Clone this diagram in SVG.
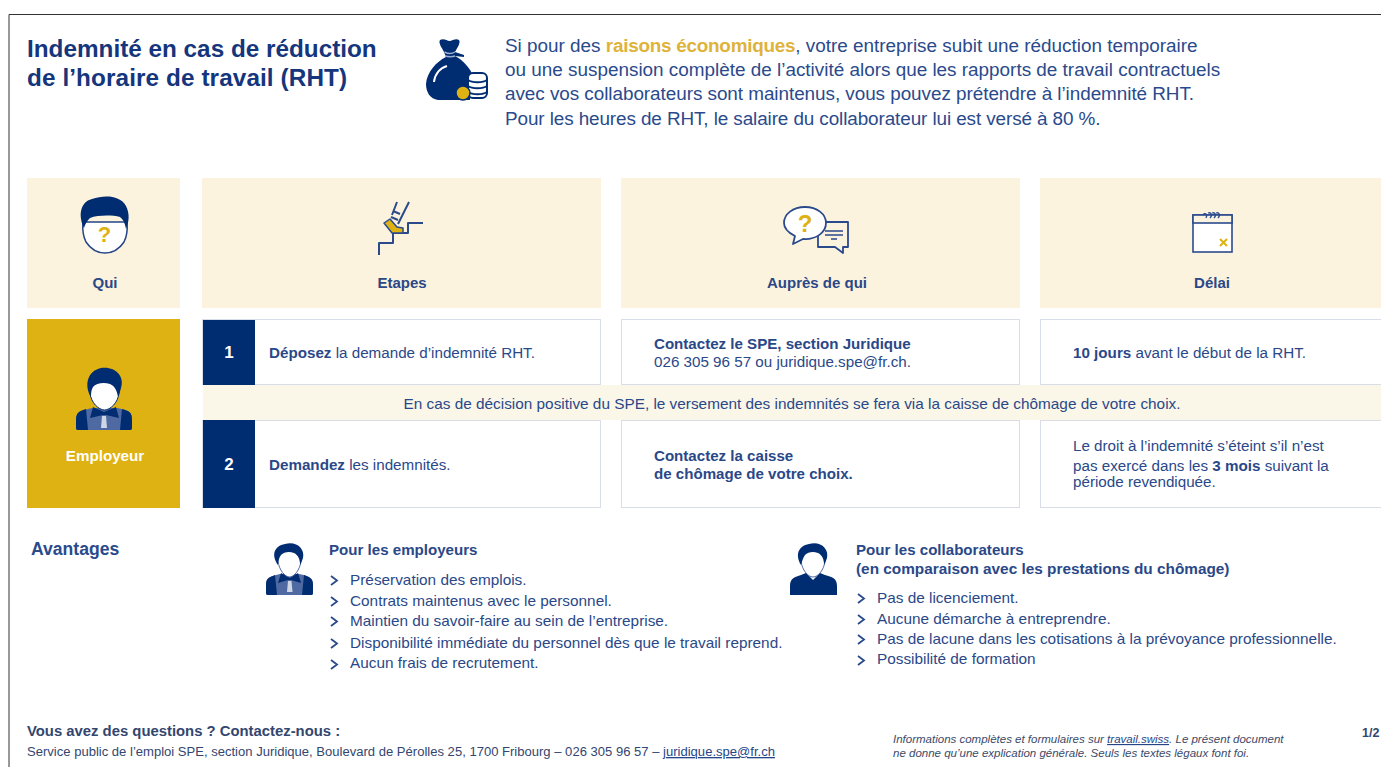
<svg xmlns="http://www.w3.org/2000/svg" width="1381" height="767" viewBox="0 0 1381 767">
<style>
text{font-family:"Liberation Sans",Arial,sans-serif;fill:#2a4888}
.b{font-weight:700}
.t{font-size:24.3px;font-weight:700;fill:#15367c}
.i{font-size:18.9px;fill:#2a4a8c}
.h{font-size:15px;font-weight:700;text-anchor:middle}
.c{font-size:15.2px}
.c.b{font-size:15.1px}
.l{font-size:15.35px}
.n{font-size:17px;font-weight:700;fill:#fff;text-anchor:middle}
.cream{fill:#fbf3de}
.card{fill:#fff;stroke:#d9dde8;stroke-width:1}
.navy{fill:#002d72}
.ln{fill:none;stroke:#2b4a8c;stroke-width:2;stroke-linejoin:round}
.gold{fill:#deb212}
.chev{fill:none;stroke:#2b4a8c;stroke-width:1.8}
.f{font-size:13.05px;fill:#33466f}
.fi{font-size:11.5px;font-style:italic;fill:#3c4a68}
</style>
<defs>
<path id="chev" class="chev" d="M0 0l6 4.500l-6 4.500"/>
</defs>
<rect width="1381" height="767" fill="#fff"/>
<path d="M9 767V14.500H1381" fill="none" stroke="#333" stroke-width="1"/>

<g id="title"><text class="t" x="27" y="57">Indemnité en cas de réduction</text><text class="t" x="27" y="86" letter-spacing=".1">de l’horaire de travail (RHT)</text></g>
<g id="intro-icon">
<path class="navy" d="M440 40C444 38 447 41 449.500 41C452 41 456 38 459 40C461 43 457 48 455 52L464 55V57L455 56C463 60 471 69 473 76L470 85V100H438C430 99 426 92 426 84C427 72 436 62 446 57L444 52C442 48 438 43 440 40Z"/>
<path d="M444.500 52C448 54 452 54 455 52M445 56C449 57 452 57 455 56" fill="none" stroke="#9db0d0" stroke-width="1.500"/>
<path d="M434 82C435 74 440 68 447 66" fill="none" stroke="#fff" stroke-width="2"/>
<rect x="468" y="73" width="19" height="25" rx="5" fill="#fff" stroke="#002d72" stroke-width="2"/>
<path d="M468 80C472 83 483 83 487 80M468 86C472 89 483 89 487 86M468 92C472 95 483 95 487 92" fill="none" stroke="#002d72" stroke-width="2"/>
<circle cx="463" cy="93" r="7" class="gold" stroke="#002d72" stroke-width="1.500"/>
</g>
<g id="intro">
<text class="i" x="505" y="52">Si pour des <tspan class="b" style="fill:#deb33a" letter-spacing="-.25">raisons économiques</tspan>, votre entreprise subit une réduction temporaire</text>
<text class="i" x="505" y="76">ou une suspension complète de l’activité alors que les rapports de travail contractuels</text>
<text class="i" x="505" y="100" letter-spacing="-.05">avec vos collaborateurs sont maintenus, vous pouvez prétendre à l’indemnité RHT.</text>
<text class="i" x="505" y="125" letter-spacing="-.1">Pour les heures de RHT, le salaire du collaborateur lui est versé à 80 %.</text>
</g>

<g id="head-qui"><rect class="cream" x="27" y="178" width="153" height="130"/>
<path d="M83 222C82 232 84 238 86 242C90 248 96 253 105 253C114 253 120 248 124 242C126 238 128 232 127 222Z" fill="#fff" stroke="#264587" stroke-width="1.500"/>
<path class="navy" d="M84 228C78 216 80 202 92 199C104 195 120 195 126 206C130 214 129 222 126 229C125 223 123 219 120 217C112 215 98 215 90 218C87 221 85 224 84 228Z"/>
<text x="104.500" y="242" style="font-size:22px;font-weight:700;fill:#deb212" text-anchor="middle">?</text>
<text class="h" x="105" y="288">Qui</text></g>

<g id="head-etapes"><rect class="cream" x="202" y="178" width="399" height="130"/>
<path class="ln" d="M379 255V243H393V233H408V223H423"/>
<path class="ln" d="M397 202L392 215M409 202L398 224M393 211L400 214M391 217L398 220" stroke-width="1.600"/>
<path d="M384 223L390 219L397 227L403 228L403 233H392Z" class="gold" stroke="#2b4a8c" stroke-width="1.500" stroke-linejoin="round"/>
<text class="h" x="402" y="288">Etapes</text></g>

<g id="head-aupres"><rect class="cream" x="621" y="178" width="399" height="130"/>
<path d="M820 222H848V247H843V253L835 247H818V236" fill="none" stroke="#2b4a8c" stroke-width="1.800" stroke-linejoin="round"/>
<path d="M825 231H843M825 235H843M831 239H837" stroke="#2b4a8c" stroke-width="1.500"/>
<path d="M805 207C817 207 826 214 826 223C826 233 815 240 803 239L793 244L795 236C789 233 784 229 784 223C784 214 793 207 805 207Z" fill="#fff" stroke="#2b4a8c" stroke-width="1.800" stroke-linejoin="round"/>
<text x="805" y="232" style="font-size:24px;font-weight:700;fill:#deb212" text-anchor="middle">?</text>
<text class="h" x="817" y="288">Auprès de qui</text></g>

<g id="head-delai"><rect class="cream" x="1040" y="178" width="341" height="130"/>
<rect x="1193" y="215" width="39" height="37" fill="#fff" stroke="#2b4a8c" stroke-width="1.600"/>
<rect x="1193" y="215" width="39" height="8" class="cream" stroke="#2b4a8c" stroke-width="1.600"/>
<path d="M1203 215C1205 212 1208 214 1206 218M1208 213C1211 212 1213 215 1210 218M1212 213C1215 212 1217 215 1214 218M1216 213C1219 212 1221 215 1218 218" fill="none" stroke="#2b4a8c" stroke-width="1.300"/>
<path d="M1220 239l7 7m0-7l-7 7" stroke="#deb212" stroke-width="2"/>
<text class="h" x="1212" y="288">Délai</text></g>

<g id="role"><rect class="gold" x="27" y="319" width="153" height="189"/>
<path d="M76 420C76 412 80 411 88 409L92 408H117L122 409C129 411 132 412 132 420V427C132 430 131 430 129 430H79C77 430 76 430 76 427Z" fill="#4f6aa3"/>
<path class="navy" d="M76 420C76 412 80 411 86 409L88 430H79C77 430 76 430 76 427ZM132 420C132 412 129 411 122 409L120 430H129C131 430 132 430 132 427ZM93 407L104 412L116 407L119 418L106 415H103L90 418Z"/>
<path d="M102 416h4l1 12h-6z" fill="#cfd6e4"/>
<path d="M90 393C90 384 96 381 104.500 381C113 381 119 384 119 393C118 403 110 410 104.500 410C99 410 91 403 90 393Z" fill="#fff" stroke="#002d72"/>
<path class="navy" d="M91 397C84 386 87 371 101 368C115 366 125 376 121 388C120 392 119 395 118 397C117 391 115 386 110 384C104 382 96 383 93 387C91 390 91 394 91 397Z"/>
<text class="h" style="fill:#fff;font-size:15.200px" x="105" y="461">Employeur</text></g>

<g id="step1"><rect class="card" x="202.500" y="319.500" width="398" height="65"/><rect class="navy" x="203" y="320" width="52" height="65"/><text class="n" x="229" y="358">1</text>
<text class="c" x="269" y="358"><tspan class="b">Déposez</tspan> la demande d’indemnité RHT.</text></g>
<g id="aupres1"><rect class="card" x="621.500" y="319.500" width="398" height="65"/>
<text class="c b" x="654" y="349">Contactez le SPE, section Juridique</text><text class="c" x="654" y="367">026 305 96 57 ou juridique.spe@fr.ch.</text></g>
<g id="delai1"><rect class="card" x="1040.500" y="319.500" width="345" height="65"/><text class="c" x="1073" y="358"><tspan class="b">10 jours</tspan> avant le début de la RHT.</text></g>

<g id="step2"><rect class="card" x="202.500" y="420.500" width="398" height="87"/><rect class="navy" x="203" y="420" width="52" height="88"/><text class="n" x="229" y="470">2</text>
<text class="c" x="269" y="470"><tspan class="b">Demandez</tspan> les indemnités.</text></g>
<g id="aupres2"><rect class="card" x="621.500" y="420.500" width="398" height="87"/>
<text class="c b" x="654" y="461">Contactez la caisse</text><text class="c b" x="654" y="479">de chômage de votre choix.</text></g>
<g id="delai2"><rect class="card" x="1040.500" y="420.500" width="345" height="87"/>
<text class="c" x="1073" y="451">Le droit à l’indemnité s’éteint s’il n’est</text><text class="c" x="1073" y="471">pas exercé dans les <tspan class="b">3 mois</tspan> suivant la</text><text class="c" x="1073" y="487">période revendiquée.</text></g>

<g id="band"><rect x="203" y="385" width="1178" height="35" fill="#faf6e8"/>
<text class="l" x="792" y="409" text-anchor="middle">En cas de décision positive du SPE, le versement des indemnités se fera via la caisse de chômage de votre choix.</text></g>

<g id="avantages"><text x="31" y="555" style="font-size:17.6px;font-weight:700;fill:#2a4a8c">Avantages</text></g>

<g id="employeurs">
<path d="M266 585C266 577 270 577 276 575L280 574H299L304 575C310 577 313 578 313 585V592C313 595 312 595 310 595H269C267 595 266 595 266 592Z" fill="#4f6aa3"/>
<path class="navy" d="M266 585C266 578 270 577 275 575L277 595H269C267 595 266 595 266 592ZM313 585C313 578 309 577 304 575L302 595H310C312 595 313 595 313 592ZM281 573L290 578L298 573L301 583L291 580H288L278 583Z"/>
<path d="M288 581h3.500l1 11h-5.500z" fill="#cfd6e4"/>
<path d="M278 561C278 553 283 550 289.500 550C296 550 301 553 301 561C300 570 294 577 289.500 577C285 577 279 570 278 561Z" fill="#fff" stroke="#264587" stroke-width=".8"/>
<path class="navy" d="M278 565C271 555 274 546 285 544C297 541 305 549 303 558C302 561 301 563 300 565C300 559 298 555 294 553C289 551 284 552 281 555C279 558 278 561 278 565Z"/>
<text class="c b" x="329" y="555">Pour les employeurs</text>
<use href="#chev" x="331" y="576"/><text class="l" x="350" y="585">Préservation des emplois.</text>
<use href="#chev" x="331" y="597"/><text class="l" x="350" y="606">Contrats maintenus avec le personnel.</text>
<use href="#chev" x="331" y="617"/><text class="l" x="350" y="626">Maintien du savoir-faire au sein de l’entreprise.</text>
<use href="#chev" x="331" y="639"/><text class="l" x="350" y="648">Disponibilité immédiate du personnel dès que le travail reprend.</text>
<use href="#chev" x="331" y="660"/><text class="l" x="350" y="668">Aucun frais de recrutement.</text>
</g>
<g id="collaborateurs">
<path class="navy" d="M790 595V586C790 578 795 577 801 575L806 573L813 580L820 573L825 575C832 577 837 578 837 586V595Z"/>
<path d="M801 561C801 553 806 550 813 550C820 550 825 553 825 561C824 570 818 577 813 577C808 577 802 570 801 561Z" fill="#fff" stroke="#264587" stroke-width=".8"/>
<path class="navy" d="M801 565C795 555 798 546 809 544C821 541 829 549 827 558C826 561 825 563 824 565C824 559 822 555 818 553C813 551 808 552 805 555C803 558 802 561 801 565Z"/>
<text class="c b" x="856" y="555">Pour les collaborateurs</text>
<text class="l b" x="856" y="574">(en comparaison avec les prestations du chômage)</text>
<use href="#chev" x="858" y="594"/><text class="l" x="877" y="603">Pas de licenciement.</text>
<use href="#chev" x="858" y="615"/><text class="l" x="877" y="624">Aucune démarche à entreprendre.</text>
<use href="#chev" x="858" y="635"/><text class="l" x="877" y="644">Pas de lacune dans les cotisations à la prévoyance professionnelle.</text>
<use href="#chev" x="858" y="656"/><text class="l" x="877" y="664">Possibilité de formation</text>
</g>

<g id="footer">
<text x="27" y="736" style="font-size:14.85px;font-weight:700;fill:#33466f">Vous avez des questions ? Contactez-nous :</text>
<text class="f" x="27" y="756">Service public de l’emploi SPE, section Juridique, Boulevard de Pérolles 25, 1700 Fribourg – 026 305 96 57 – <tspan text-decoration="underline" style="fill:#264587">juridique.spe@fr.ch</tspan></text>
<text class="fi" x="893" y="743">Informations complètes et formulaires sur <tspan text-decoration="underline" style="fill:#264587">travail.swiss</tspan>. Le présent document</text>
<text class="fi" x="893" y="757">ne donne qu’une explication générale. Seuls les textes légaux font foi.</text>
<text x="1362" y="737" style="font-size:12.500px;font-weight:700;fill:#33466f">1/2</text>
</g>
</svg>
